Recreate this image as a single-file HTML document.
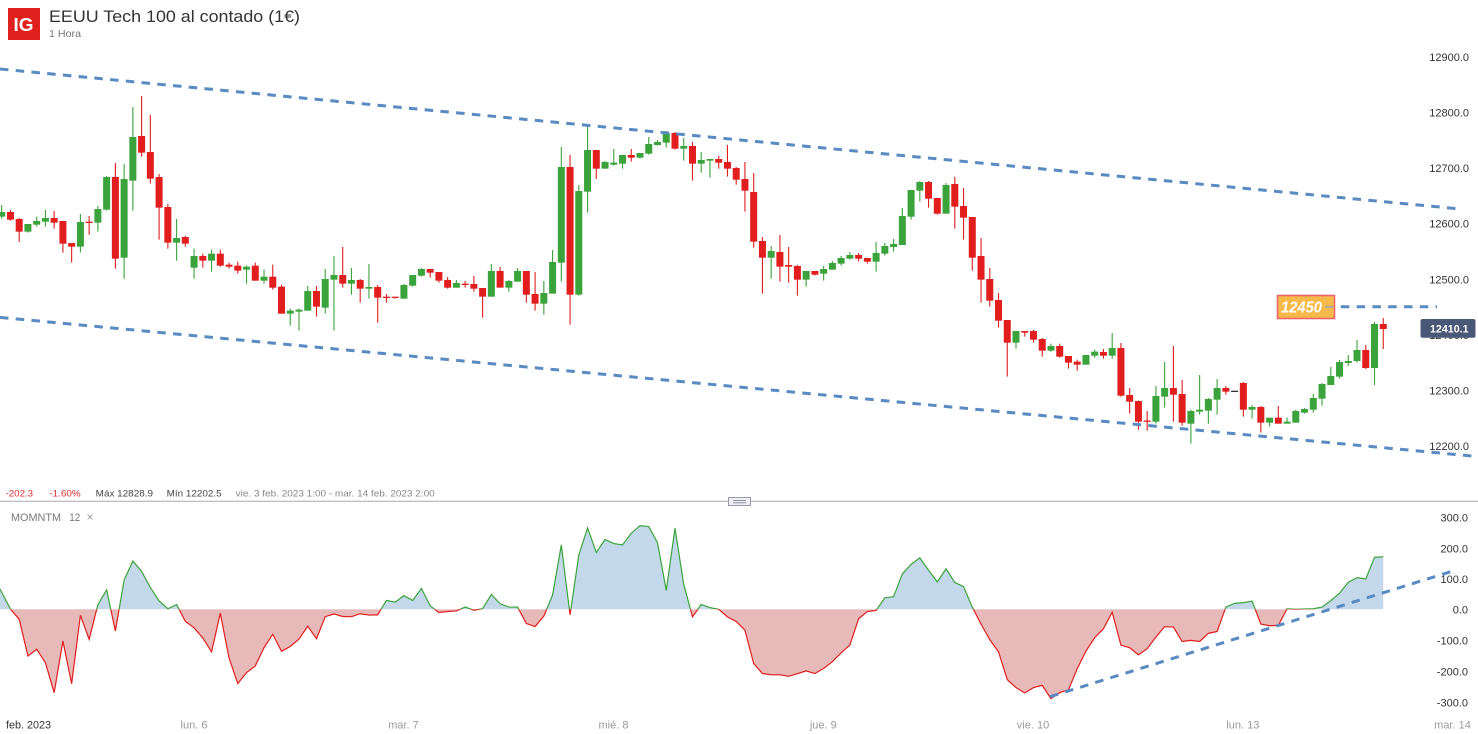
<!DOCTYPE html>
<html>
<head>
<meta charset="utf-8">
<style>
html,body{margin:0;padding:0;background:#fff;}
body{width:1478px;height:734px;overflow:hidden;}
svg{display:block;font-family:"Liberation Sans",Arial,sans-serif;}
</style>
</head>
<body>
<svg id="c" xmlns="http://www.w3.org/2000/svg" width="1478" height="734" viewBox="0 0 1478 734">
  <defs>
    <clipPath id="above"><rect x="0" y="0" width="1478" height="609.3"/></clipPath>
    <clipPath id="below"><rect x="0" y="609.3" width="1478" height="130"/></clipPath>
  </defs>
  <rect width="1478" height="734" fill="#fff"/>

  <!-- header -->
  <rect x="8" y="8" width="32" height="32" fill="#e0201c"/>
  <text x="13.5" y="31" font-size="18" font-weight="bold" fill="#fff" textLength="20" lengthAdjust="spacingAndGlyphs">IG</text>
  <text x="49" y="22" font-size="17" fill="#333" textLength="251" lengthAdjust="spacingAndGlyphs">EEUU Tech 100 al contado (1€)</text>
  <text x="49" y="37" font-size="10.5" fill="#777" textLength="32" lengthAdjust="spacingAndGlyphs">1 Hora</text>

  <!-- price axis labels -->
  <g font-size="11" fill="#333" text-anchor="end">
    <text x="1469" y="61">12900.0</text>
    <text x="1469" y="116.6">12800.0</text>
    <text x="1469" y="172.1">12700.0</text>
    <text x="1469" y="227.7">12600.0</text>
    <text x="1469" y="283.3">12500.0</text>
    <text x="1469" y="338.8">12400.0</text>
    <text x="1469" y="394.4">12300.0</text>
    <text x="1469" y="450">12200.0</text>
  </g>

  <g id="candles"></g>

  <!-- channel lines -->
  <g stroke="#5a8ac2" stroke-width="3" stroke-dasharray="8.5 7.3" fill="none">
    <line x1="0" y1="69" x2="1460" y2="209"/>
    <line x1="0" y1="317.4" x2="1478" y2="456.6"/>
    <line x1="1325" y1="306.8" x2="1437" y2="306.8"/>
  </g>

  <!-- 12450 marker -->
  <rect x="1277.5" y="295.5" width="57" height="23" fill="#f6b94a" stroke="#e8666c" stroke-width="1.6"/>
  <text x="1281" y="312.5" font-size="16" font-weight="bold" font-style="italic" fill="#fff" textLength="41" lengthAdjust="spacingAndGlyphs">12450</text>
  <line x1="1325" y1="306.8" x2="1333" y2="306.8" stroke="#a8a8a8" stroke-width="2"/>

  <!-- current price -->
  <rect x="1420.5" y="319" width="55" height="18.7" rx="2" fill="#4a5877"/>
  <text x="1430" y="332.3" font-size="11" font-weight="bold" fill="#fff" textLength="38.5" lengthAdjust="spacingAndGlyphs">12410.1</text>

  <!-- stats row -->
  <g font-size="9.5">
    <text x="5.5" y="496.5" fill="#e03030" textLength="27.6" lengthAdjust="spacingAndGlyphs">-202.3</text>
    <text x="49.3" y="496.5" fill="#e03030" textLength="31.4" lengthAdjust="spacingAndGlyphs">-1.60%</text>
    <text x="95.7" y="496.5" fill="#444" textLength="57.3" lengthAdjust="spacingAndGlyphs">Máx 12828.9</text>
    <text x="166.7" y="496.5" fill="#444" textLength="55" lengthAdjust="spacingAndGlyphs">Mín 12202.5</text>
    <text x="235.7" y="496.5" fill="#888" textLength="199" lengthAdjust="spacingAndGlyphs">vie. 3 feb. 2023 1:00 - mar. 14 feb. 2023 2:00</text>
  </g>

  <!-- separator -->
  <line x1="0" y1="501.3" x2="1478" y2="501.3" stroke="#aaa" stroke-width="1"/>
  <rect x="728.5" y="497.5" width="22" height="8" fill="#eeeef4" stroke="#9a9aa8" stroke-width="1"/>
  <line x1="733" y1="500.5" x2="746" y2="500.5" stroke="#9090a0" stroke-width="1"/>
  <line x1="733" y1="502.8" x2="746" y2="502.8" stroke="#9090a0" stroke-width="1"/>

  <!-- momentum header -->
  <text x="11" y="521" font-size="11" fill="#7a7a7a" textLength="50" lengthAdjust="spacingAndGlyphs">MOMNTM</text>
  <text x="69.3" y="521" font-size="11" fill="#7a7a7a" textLength="11" lengthAdjust="spacingAndGlyphs">12</text>
  <text x="86.5" y="521" font-size="12" fill="#9a9aa6">×</text>

  <!-- momentum axis -->
  <g font-size="11" fill="#333" text-anchor="end">
    <text x="1468" y="521.3">300.0</text>
    <text x="1468" y="552.3">200.0</text>
    <text x="1468" y="583">100.0</text>
    <text x="1468" y="613.7">0.0</text>
    <text x="1468" y="644.7">-100.0</text>
    <text x="1468" y="675.3">-200.0</text>
    <text x="1468" y="706.3">-300.0</text>
  </g>

  <g id="mom"></g>

  <line x1="1050" y1="696.7" x2="1454.5" y2="570.5" stroke="#5a8ac2" stroke-width="3" stroke-dasharray="8.5 7.3"/>

  <!-- time axis -->
  <g font-size="11" fill="#999">
    <text x="6" y="728.5" fill="#333" textLength="45" lengthAdjust="spacingAndGlyphs">feb. 2023</text>
    <text x="194" y="728.5" text-anchor="middle">lun. 6</text>
    <text x="403.5" y="728.5" text-anchor="middle">mar. 7</text>
    <text x="613.5" y="728.5" text-anchor="middle">mié. 8</text>
    <text x="823.3" y="728.5" text-anchor="middle">jue. 9</text>
    <text x="1033" y="728.5" text-anchor="middle">vie. 10</text>
    <text x="1242.8" y="728.5" text-anchor="middle">lun. 13</text>
    <text x="1452.5" y="728.5" text-anchor="middle">mar. 14</text>
  </g>
</svg>
<script>
(function(){
var NS="http://www.w3.org/2000/svg";
var groups=[
[80,"G 375 396 410 416|R 390 396 419 422|R 414 417 455 486|G 432 432 455 458|G 410 423 434 440|G 390 414 425 440|R 393 414 428 446|R 423 423 491 518|R 489 489 500 548|G 402 426 500 518|R 408 426 428 464|G 378 387 428 455|G 288 291 389 392|R 249 291 536 566|G 252 297 533 596|G 81 171 302 392|R 48 168 218 230|R 105 216 296 311|R 282 291 383 479|R 372 381 488 506|G 417 474 488 542|R 468 471 491 500|G 506 528 563 596|R 521 528 542 563|G 509 521 542 575|R 509 521 557 560|R 548 554 560 566|R 545 557 572 581|G 557 560 569 611|R 548 557 602 602|G 569 590 602 611|R 554 590 623 629|R 614 620 701 701|G 686 692 701 737|G 686 689 695 752"],
[110,"G 528 543 602 602|R 528 543 590 620|G 477 507 593 611|G 438 495 509 662|R 411 495 521 533|G 474 510 521 554|R 507 510 536 578|G 462 531 536 566|R 525 531 563 638|R 552 561 563 578|R 561 561 563 566|G 522 525 566 566|G 495 495 527 530|G 474 477 497 500|R 477 477 488 503|R 486 486 512 518|R 501 510 533 536|G 510 519 533 533|R 513 522 524 533|R 498 522 536 545|R 534 534 560 623|G 462 483 560 560|R 471 483 533 533|G 510 513 533 545|G 474 483 515 515|R 483 483 554 578|R 486 552 581 602|G 513 549 581 614|G 420 456 551 551|G 111 171 458 515|R 135 171 554 644|G 225 243 554 557|G 45 120 245 308"],
[120,"R 90 90 146 177|G 123 126 146 146|G 87 128 134 137|G 105 105 131 146|R 87 105 113 125|G 99 99 113 116|G 51 72 101 104|G 60 66 75 77|G 33 39 68 83|R 36 39 86 89|G 54 78 86 122|R 66 78 131 182|G 96 120 131 158|G 117 117 122 173|R 108 117 128 146|R 75 126 146 170|R 141 144 179 194|R 126 177 212 275|R 159 216 365 383|R 351 363 413 521|G 378 393 413 476|R 345 396 440 485|R 381 435 440 488|R 435 438 479 527|G 453 453 479 500|R 453 453 464 467|G 438 447 461 482|G 423 429 449 449|G 408 414 431 437|G 396 405 416 419|R 399 405 416 425|R 414 414 425 431|G 366 399 425 455"],
[170,"G 219 228 251 257|G 207 222 231 245|G 114 138 225 225|G 60 60 140 149|G 33 36 62 95|R 33 36 86 113|R 84 84 131 134|G 39 45 131 131|R 21 42 110 176|R 54 108 143 209|R 141 141 263 302|R 204 258 329 398|R 294 327 392 410|R 369 390 452 473|R 450 450 518 620|G 483 483 518 536|R 483 483 488 500|R 480 483 509 518|R 504 507 542 560|G 521 528 542 545|R 521 528 560 563|R 558 558 578 596|R 569 575 584 602|G 555 555 584 584|G 539 545 557 563"],
[310,"R 117 126 137 146|G 69 114 137 146|R 99 114 257 260|R 234 255 275 311|R 272 273 335 359|R 303 332 335 362|G 228 258 335 341|G 156 234 260 293|R 108 234 254 335|R 210 252 338 347|G 299 303 341 401|G 195 299 305 314|G 264 267 302 341|G 207 234 269 314|R 228 234 245 254|D 243 243 245 245|R 216 219 299 320|G 285 291 299 326|R 288 291 338 368|G 323 323 338 350|R 288 323 341 341|G 323 335 341 341|G 299 303 338 338|G 294 297 308 311|G 252 264 299 308|G 219 222 266 287|G 171 198 225 225|G 150 156 200 206|G 135 153 159 168|G 90 120 153 158|R 105 120 174 177|G 36 42 174 225|R 24 42 57 117"]
];
var candles=[];
groups.forEach(function(g){
  var oy=g[0];
  g[1].split("|").forEach(function(s){
    var p=s.trim().split(/\s+/);
    candles.push({c:p[0],wt:oy+(+p[1])/3,bt:oy+(+p[2])/3,bb:oy+(+p[3])/3,wb:oy+(+p[4])/3});
  });
});
var col={G:"#3ba33b",R:"#e11d1d",D:"#333333"};
var cg=document.getElementById("candles");
var X0=1.7,DX=8.744;
var wickPaths={G:"",R:"",D:""};
var bodies="";
candles.forEach(function(k,i){
  var x=X0+DX*i;
  wickPaths[k.c]+="M"+x.toFixed(2)+" "+k.wt.toFixed(2)+"V"+k.wb.toFixed(2);
  var h=k.bb-k.bt; var top=k.bt;
  if(h<1.3){h=1.3; top=(k.bt+k.bb)/2-0.65;}
  var r=document.createElementNS(NS,"rect");
  r.setAttribute("x",(x-3.5).toFixed(2));
  r.setAttribute("y",top.toFixed(2));
  r.setAttribute("width","7");
  r.setAttribute("height",h.toFixed(2));
  r.setAttribute("fill",col[k.c]);
  cg.appendChild(r);
});
["G","R","D"].forEach(function(c){
  if(!wickPaths[c])return;
  var p=document.createElementNS(NS,"path");
  p.setAttribute("d",wickPaths[c]);
  p.setAttribute("stroke",col[c]);
  p.setAttribute("stroke-width","1.1");
  p.setAttribute("fill","none");
  cg.insertBefore(p,cg.firstChild);
});
// momentum
var Z=609.3;
var first=[589,609,619.3,656,649.3,662.7,692.7,641,683.7,615.3,639.3,604.7];
var close=candles.map(function(k){return k.c=="R"?k.bb:k.bt;});
var pts=[];
for(var i=0;i<candles.length;i++){
  var y = i<12 ? first[i] : Z-(close[i-12]-close[i])*0.5552;
  var x = i==0 ? 0 : X0+DX*i;
  pts.push([x,y]);
}
var line="M"+pts.map(function(p){return p[0].toFixed(2)+" "+p[1].toFixed(2);}).join("L");
var last=pts[pts.length-1];
var area=line+"L"+last[0].toFixed(2)+" "+Z+"L0 "+Z+"Z";
var mg=document.getElementById("mom");
function add(d,attrs){
  var p=document.createElementNS(NS,"path");
  p.setAttribute("d",d);
  for(var a in attrs)p.setAttribute(a,attrs[a]);
  mg.appendChild(p);
}
add(area,{fill:"#c3d8ea","clip-path":"url(#above)"});
add(area,{fill:"#e8b9b9","clip-path":"url(#below)"});
add(line,{fill:"none",stroke:"#3ba33b","stroke-width":"1.2","clip-path":"url(#above)"});
add(line,{fill:"none",stroke:"#e11d1d","stroke-width":"1.2","clip-path":"url(#below)"});
})();
</script>
</body>
</html>
